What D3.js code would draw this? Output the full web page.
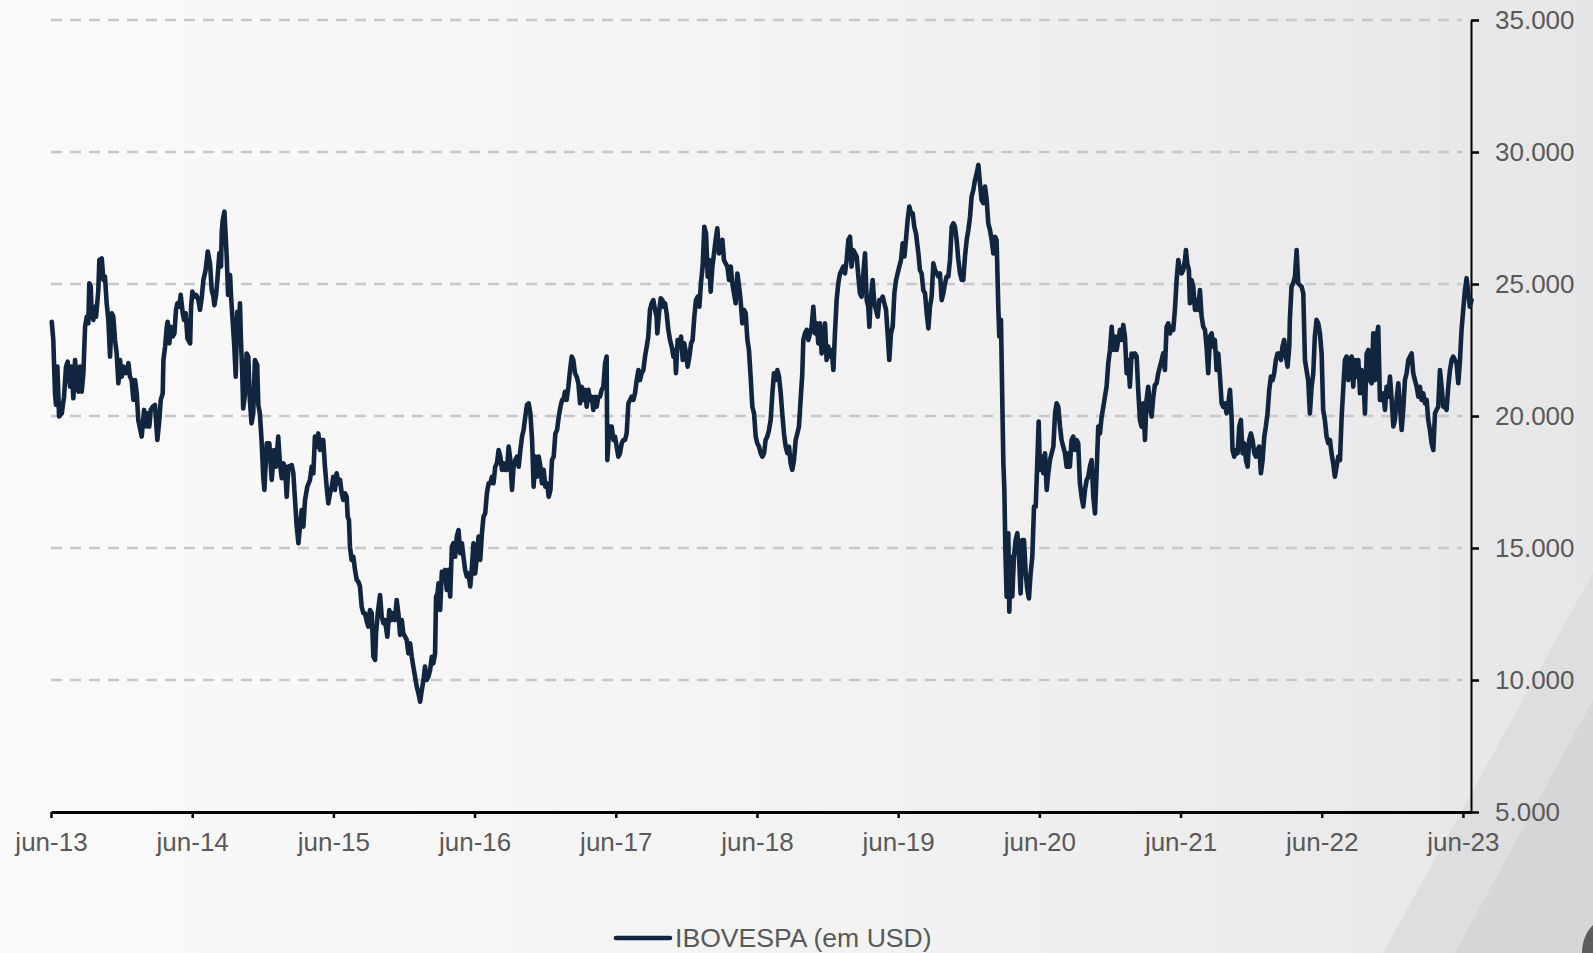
<!DOCTYPE html>
<html>
<head>
<meta charset="utf-8">
<script src="https://cdn.jsdelivr.net/npm/d3@7"></script>
<style>
  html, body { margin: 0; padding: 0; background: #f5f5f6; }
  svg { display: block; }
  text { font-family: "Liberation Sans", Arial, sans-serif; }
</style>
</head>
<body>
<div id="chart"></div>
<script>
// IBOVESPA em USD, datas em anos decimais (jun-13 a jun-23)
var datas = [
  2013.419,2013.430,2013.442,2013.449,2013.459,2013.471,2013.490,2013.506,2013.520,2013.532,2013.549,2013.560,2013.572,2013.584,2013.596,2013.608,2013.619,2013.631,2013.643,2013.655,
  2013.667,2013.678,2013.685,2013.695,2013.702,2013.714,2013.721,2013.733,2013.749,2013.756,2013.773,2013.785,2013.796,2013.808,2013.820,2013.832,2013.844,2013.855,2013.867,2013.879,
  2013.891,2013.903,2013.915,2013.926,2013.945,2013.962,2013.973,2013.985,2013.997,2014.009,2014.021,2014.032,2014.044,2014.056,2014.073,2014.087,2014.096,2014.110,2014.120,2014.134,
  2014.150,2014.167,2014.181,2014.191,2014.205,2014.210,2014.222,2014.234,2014.240,2014.252,2014.262,2014.276,2014.288,2014.299,2014.309,2014.323,2014.332,2014.347,2014.356,2014.368,
  2014.380,2014.399,2014.406,2014.415,2014.427,2014.441,2014.458,2014.469,2014.481,2014.493,2014.509,2014.524,2014.540,2014.552,2014.564,2014.571,2014.583,2014.592,2014.606,2014.618,
  2014.623,2014.630,2014.642,2014.651,2014.658,2014.668,2014.682,2014.689,2014.700,2014.712,2014.722,2014.733,2014.745,2014.752,2014.759,2014.768,2014.775,2014.787,2014.799,2014.811,
  2014.822,2014.834,2014.846,2014.858,2014.874,2014.882,2014.893,2014.905,2014.917,
  2014.925,2014.942,2014.960,2014.977,2014.993,2015.007,2015.023,2015.035,2015.048,2015.059,2015.071,2015.083,2015.095,2015.119,2015.130,2015.142,2015.154,2015.166,2015.177,2015.189,
  2015.201,2015.213,2015.229,2015.248,2015.260,2015.272,2015.283,2015.295,2015.307,2015.319,2015.331,2015.342,2015.354,2015.366,2015.378,2015.390,2015.402,2015.413,2015.425,2015.437,
  2015.449,2015.461,2015.473,2015.484,2015.496,2015.508,2015.515,2015.524,2015.531,2015.543,2015.555,2015.567,2015.579,2015.590,2015.602,2015.614,2015.626,2015.638,2015.650,2015.661,
  2015.673,2015.685,2015.697,2015.709,2015.716,2015.728,2015.744,2015.756,2015.768,2015.779,2015.796,2015.810,2015.827,2015.838,2015.850,2015.862,2015.874,2015.886,2015.898,2015.909,
  2015.921,2015.933,2015.945,2015.957,2015.969,2015.980,2015.992,2016.004,2016.016,2016.028,2016.040,2016.052,2016.063,2016.075,2016.087,2016.099,2016.111,2016.122,2016.134,2016.141,
  2016.151,2016.158,2016.170,2016.182,2016.193,2016.205,2016.217,2016.229,2016.241,2016.253,2016.264,2016.276,2016.288,2016.300,2016.312,2016.324,2016.335,2016.347,2016.359,2016.371,
  2016.383,2016.395,2016.406,2016.418,2016.430,2016.442,2016.454,2016.466,2016.477,2016.489,2016.501,2016.513,2016.525,2016.537,2016.548,2016.560,2016.572,2016.584,2016.596,2016.608,
  2016.619,2016.631,2016.643,2016.655,2016.667,2016.679,2016.690,2016.702,2016.714,2016.726,2016.738,2016.750,2016.761,2016.773,2016.785,2016.797,2016.809,2016.821,2016.832,2016.844,
  2016.856,2016.868,2016.880,2016.891,2016.903,2016.915,2016.927,2016.939,2016.951,2016.962,2016.974,2016.986,2016.998,2017.010,2017.022,2017.034,
  2017.043,2017.054,2017.066,2017.078,2017.090,2017.102,2017.113,2017.125,2017.137,2017.149,2017.161,2017.172,2017.184,2017.196,2017.208,2017.220,2017.231,2017.243,2017.255,2017.267,
  2017.279,2017.290,2017.302,2017.314,2017.326,2017.338,2017.349,2017.354,2017.368,2017.385,2017.397,2017.408,2017.420,2017.432,2017.444,2017.456,2017.467,2017.479,2017.491,2017.503,
  2017.515,2017.526,2017.538,2017.550,2017.562,2017.574,2017.585,2017.597,2017.609,2017.621,2017.633,2017.644,2017.656,2017.668,2017.680,2017.692,2017.703,2017.708,2017.720,2017.732,
  2017.744,2017.751,2017.763,2017.774,2017.786,2017.798,2017.810,2017.822,2017.833,2017.840,2017.852,2017.864,2017.876,2017.888,2017.899,2017.911,2017.923,2017.935,2017.947,2017.958,
  2017.970,2017.982,2017.994,2018.006,2018.017,2018.029,2018.041,2018.053,2018.065,2018.076,2018.086,2018.098,2018.110,2018.121,2018.133,2018.145,2018.157,2018.169,2018.180,2018.192,
  2018.204,2018.216,2018.228,2018.239,2018.251,2018.263,2018.275,2018.287,2018.298,2018.310,2018.322,2018.334,2018.346,2018.357,2018.369,2018.381,2018.393,2018.405,2018.416,2018.428,
  2018.440,2018.452,2018.464,2018.475,2018.487,2018.499,2018.511,2018.523,2018.534,2018.546,2018.558,2018.570,2018.582,2018.593,2018.605,2018.617,2018.629,2018.641,2018.652,2018.664,
  2018.676,2018.688,2018.700,2018.711,2018.723,2018.735,2018.742,2018.754,2018.766,2018.778,2018.790,2018.801,2018.813,2018.825,2018.837,2018.848,2018.860,2018.872,2018.884,2018.896,
  2018.907,2018.919,2018.931,2018.943,2018.955,2018.966,2018.978,2018.990,2019.002,2019.014,2019.025,2019.037,2019.049,2019.061,2019.073,2019.084,2019.096,2019.108,2019.120,2019.132,
  2019.143,2019.155,2019.167,2019.179,2019.191,2019.202,2019.210,2019.219,2019.233,2019.245,2019.257,2019.269,2019.280,2019.292,2019.304,2019.316,2019.328,2019.339,2019.351,2019.363,
  2019.375,2019.387,2019.399,2019.410,2019.422,2019.434,2019.446,2019.458,2019.469,2019.481,2019.493,2019.505,2019.517,2019.528,2019.540,2019.557,2019.568,
  2019.580,2019.592,2019.604,2019.616,2019.628,2019.639,2019.651,2019.663,2019.675,2019.687,2019.698,2019.710,2019.722,2019.734,2019.746,2019.757,2019.769,2019.781,2019.793,2019.805,
  2019.816,2019.828,2019.840,2019.852,2019.864,2019.875,2019.887,2019.899,2019.911,2019.923,2019.934,2019.946,2019.958,2019.970,2019.982,2019.993,2020.005,2020.017,2020.029,2020.041,
  2020.052,2020.064,2020.076,2020.088,2020.100,2020.111,2020.123,2020.130,2020.142,2020.154,2020.159,2020.166,2020.173,2020.182,2020.194,2020.201,2020.211,2020.222,2020.234,2020.246,
  2020.258,2020.270,2020.281,2020.293,2020.305,2020.317,2020.329,2020.340,2020.352,2020.364,2020.376,2020.388,2020.399,2020.409,2020.418,2020.430,2020.442,2020.454,2020.466,2020.477,
  2020.489,2020.501,2020.513,2020.525,2020.536,2020.548,
  2020.560,2020.571,2020.583,2020.595,2020.607,2020.619,2020.630,2020.642,2020.654,2020.666,2020.678,2020.689,2020.701,2020.713,2020.725,2020.737,2020.749,2020.760,2020.772,2020.784,
  2020.796,2020.808,2020.819,2020.831,2020.843,2020.855,2020.867,2020.878,2020.890,2020.902,2020.914,2020.926,2020.937,2020.949,2020.961,2020.973,2020.985,2020.996,2021.008,2021.020,
  2021.032,2021.044,2021.055,2021.067,2021.079,2021.091,2021.103,2021.114,2021.126,2021.138,2021.150,2021.162,2021.173,2021.185,2021.197,2021.209,2021.221,2021.232,2021.244,2021.256,
  2021.268,2021.280,2021.291,2021.303,2021.315,2021.327,2021.339,2021.350,2021.362,2021.374,2021.386,2021.398,2021.409,2021.421,2021.433,2021.445,2021.452,2021.461,2021.473,2021.480,
  2021.492,2021.504,2021.516,2021.528,2021.539,2021.551,2021.563,2021.575,2021.587,2021.598,2021.610,2021.622,2021.634,2021.646,2021.657,2021.669,2021.681,2021.693,2021.705,2021.716,
  2021.728,2021.740,2021.752,2021.764,2021.775,2021.782,2021.794,2021.806,2021.818,2021.830,2021.841,2021.853,2021.865,2021.877,2021.889,2021.900,2021.912,2021.924,2021.936,2021.948,
  2021.959,2021.971,2021.983,2021.995,2022.007,2022.018,2022.030,2022.042,2022.054,2022.066,2022.077,2022.089,2022.101,2022.113,2022.125,2022.136,2022.148,2022.160,2022.172,2022.184,
  2022.188,2022.200,2022.212,2022.224,2022.236,2022.247,2022.259,2022.271,2022.283,2022.295,2022.306,2022.318,2022.330,2022.342,2022.354,2022.365,2022.377,2022.389,2022.401,2022.413,
  2022.424,2022.436,2022.448,2022.460,2022.472,2022.483,2022.495,2022.507,2022.519,2022.531,
  2022.543,2022.555,2022.567,2022.578,2022.590,2022.602,2022.614,2022.626,2022.637,2022.649,2022.661,2022.673,2022.685,2022.696,2022.708,2022.720,2022.732,2022.744,2022.755,2022.767,
  2022.779,2022.791,2022.803,2022.814,2022.826,2022.838,2022.850,2022.862,2022.873,2022.885,2022.897,2022.909,2022.921,2022.932,2022.944,2022.956,2022.968,2022.980,2022.991,2023.003,
  2023.015,2023.027,2023.039,2023.050,2023.062,2023.074,2023.086,2023.098,2023.109,2023.121,2023.133,2023.145,2023.157,2023.168,2023.180,2023.192,2023.204,2023.216,2023.227,2023.239,
  2023.251,2023.263,2023.275,2023.286,2023.298,2023.310,2023.322,2023.334,2023.345,2023.357,2023.369,2023.381,2023.393,2023.404,2023.416,2023.428,2023.440,2023.452,2023.463,2023.475
];

var ibovUSD = [
  23570,22880,20860,20420,21870,19980,20100,20730,21870,22060,21110,21870,20670,22120,21360,20920,21870,20920,21620,23380,
  23760,23510,25030,24900,23890,23640,24140,23760,24770,25910,25970,25150,25280,24270,23640,22250,23890,23760,22880,22370,
  21240,22120,21490,21870,21620,22000,21490,21360,20610,21360,20860,19850,19530,19220,20230,19600,20100,19600,20230,20350,
  20420,19090,19850,20610,20860,22120,22630,23380,23570,22750,23380,23010,23130,24020,24270,24140,24590,23890,23640,23890,
  22940,22750,24140,24710,24520,24590,24390,24020,24460,25150,25530,26230,25780,24770,24520,24200,24590,25150,26160,25660,
  26980,27420,27740,26790,26040,24590,25340,24520,23640,22630,21490,23950,23190,24270,22880,21620,20290,20800,22370,22250,
  20610,19720,20100,22120,21930,20420,20100,19090,17700,
  17200,18970,18970,17580,18710,18080,19220,18210,17640,18210,18080,16940,18080,18140,17830,16820,15810,15180,15810,16440,
  15810,16820,17320,17580,18080,17830,19220,18840,19340,18710,19090,19090,18080,17320,16690,17070,17320,17700,17200,17830,
  17450,17580,17070,16820,17070,16940,16190,16060,15050,14550,14670,14170,13790,13730,13540,12780,12530,12530,12210,12020,
  12650,12530,10880,10760,11770,12530,13220,12400,12150,12270,11640,12650,12270,12530,12270,13030,12530,11710,12270,11770,
  11640,11520,11010,11390,10880,10510,10130,9750,9500,9180,9620,10000,10510,10000,10130,10380,10880,10630,11010,13160,
  13280,13660,12650,14100,13790,14170,13410,14170,13160,15050,15180,14670,15430,15680,14800,15180,14670,14170,13910,14040,
  13540,14290,15180,14040,14670,15430,14550,15560,16190,16310,17070,17450,17450,17700,17450,18080,18210,18710,18460,17960,
  18210,17960,17960,18840,18330,17200,18080,18330,18460,18080,18710,19220,19470,19980,20420,20480,20100,19090,17320,18460,
  17700,18460,18080,17450,17960,17320,17450,16940,17200,18330,18460,19340,19470,19980,20350,20610,
  20610,20920,20610,21110,21740,22250,22120,21620,21490,21240,20480,21110,20610,20990,20350,20990,20610,20730,20230,20730,
  20350,20730,20730,20990,21110,22000,22250,18330,19600,19600,19090,19220,18840,18460,18590,18970,19090,19090,19340,20480,
  20610,20730,20610,20860,21360,21740,21360,21620,21740,22250,22630,23010,24020,24270,24390,24020,23760,23130,23890,24460,
  24390,24140,24270,23890,23260,22880,22630,22250,22500,21620,22880,22630,23010,22120,22750,22370,21870,22250,22750,22880,
  23760,24390,24520,24140,25030,25660,27170,26920,25280,25910,24710,25660,26160,26670,27110,26160,26540,26670,25910,25780,
  25660,25150,25660,25030,24650,24270,25400,24900,24390,23510,24020,23890,22880,22500,21490,20350,20100,19220,18970,18840,
  18590,18460,18590,19090,19220,19470,19850,20860,21620,21360,21740,21490,20860,20100,19340,18840,18590,18840,18210,17960,
  18330,19090,19340,19600,20610,21620,22880,23130,23260,22880,23130,23380,24140,23130,23510,22750,23510,22370,22880,23510,
  22120,22630,22250,22500,21740,23130,24390,25030,25400,25530,25660,25400,25910,26670,26790,25660,26290,26160,26040,25280,
  24650,24520,25400,26160,24390,24140,23380,24390,25150,24270,24020,23760,24390,24390,24520,24270,24020,23130,22120,23130,
  23380,24650,25150,25400,25660,25910,26540,26040,26670,27430,27930,27680,27680,27170,26920,26160,25530,
  25400,24770,24650,23890,23320,24140,24520,25780,25530,25400,25280,25400,24390,24650,25030,25280,25280,25910,27170,27300,
  27170,26670,25910,25400,25150,25150,26040,26670,27050,27550,28310,28560,28940,29190,29510,28810,28180,28060,28690,28180,
  27300,27050,26670,26160,26790,26670,24140,23010,23640,19720,18210,17200,14930,13160,15560,12590,14670,13160,14670,15300,
  15560,14670,13280,15300,15300,14040,13410,13090,14040,14670,16570,16570,18210,19790,17960,18460,17830,18590,17200,17830,
  18330,18590,18840,20100,20480,20350,
  19600,19090,18840,18590,18080,18590,18080,19090,19220,18710,19090,18970,17450,16940,16570,17200,17580,17700,18080,18330,
  16940,16310,17830,19600,19340,19980,20350,20730,21110,22000,22500,23380,22500,23010,22500,22880,23260,22880,23450,23010,
  21620,22120,21110,22370,22250,22370,22250,20990,19850,19600,20480,19090,20610,21110,20350,19980,20730,21170,21240,21620,
  21870,22120,22370,21740,23380,23510,23130,23380,23260,24020,25150,25910,25530,25400,25530,25910,26290,25780,25530,24270,
  25150,24900,24020,24390,24020,24770,23760,23380,23260,22630,21620,23010,23130,22630,22880,21740,22370,21490,20480,20350,
  20480,20100,20480,20990,19980,18710,18460,18710,18590,19600,19850,18590,18970,18330,18080,19090,19340,19090,18590,18460,
  18710,18840,17830,18330,19220,19600,20100,20990,21490,21360,21620,22120,22370,22370,22120,22630,22880,22250,21870,22630,
  23640,24900,25030,25280,26290,25030,24960,24900,24650,22120,21740,21360,20100,21110,21620,23010,23640,23510,23130,22370,
  20230,19850,19220,18970,19090,18590,18210,17700,18080,18460,
  18330,19980,21110,22120,22250,21360,22120,22250,21110,22120,21490,22120,20860,21740,21620,20100,22370,22500,21360,21240,
  23130,21360,23010,23380,20610,20610,20860,20230,21110,20730,21490,20610,19600,19850,20610,21240,20350,19470,20230,21360,
  21620,22120,22250,22370,21620,21360,21110,20730,21110,20610,20860,20480,20610,19850,19470,18970,18710,20100,20230,20350,
  21740,21110,20350,20350,20230,21110,21740,22120,22250,22120,22000,21240,22120,23260,24020,24770,25220,24650,24140,24390
];

var anosTicks = [2013, 2014, 2015, 2016, 2017, 2018, 2019, 2020, 2021, 2022, 2023];
var rotulosX = ["jun-13", "jun-14", "jun-15", "jun-16", "jun-17", "jun-18", "jun-19", "jun-20", "jun-21", "jun-22", "jun-23"];
var ticksY = [5000, 10000, 15000, 20000, 25000, 30000, 35000];
var legenda = "IBOVESPA (em USD)";

var width = 1593,
    height = 953;
var junho = 151 / 365;   // 1 de junho como fracao do ano

var x = d3.scaleLinear()
    .domain([2013 + junho, 2023.471])
    .range([51, 1471]);

var y = d3.scaleLinear()
    .domain([5000, 35000])
    .range([812, 20]);

var fmt = d3.formatLocale({decimal: ",", thousands: ".", grouping: [3], currency: ["", ""]}).format(",.0f");

var svg = d3.select("#chart").append("svg")
    .attr("width", width)
    .attr("height", height);

// fundo
var defs = svg.append("defs");
var grad = defs.append("linearGradient")
    .attr("id", "fundo")
    .attr("x1", "0%").attr("x2", "100%")
    .attr("y1", "0%").attr("y2", "0%");
grad.append("stop").attr("offset", "0%").attr("stop-color", "#fafafa");
grad.append("stop").attr("offset", "55%").attr("stop-color", "#f2f2f3");
grad.append("stop").attr("offset", "100%").attr("stop-color", "#e6e6e8");

svg.append("rect")
    .attr("width", width)
    .attr("height", height)
    .attr("fill", "url(#fundo)");

// detalhe decorativo no canto inferior direito
svg.append("path")
    .attr("d", "M1593,573 L1593,953 L1383,953 Z")
    .attr("fill", "#dedee0");
svg.append("path")
    .attr("d", "M1593,700 L1593,953 L1455,953 Z")
    .attr("fill", "#d6d6d8");
svg.append("path")
    .attr("d", "M1582,953 C1582,940 1587,931 1593,925 L1593,953 Z")
    .attr("fill", "#5c5c5e");

// grade
svg.append("g")
    .selectAll("line")
    .data(ticksY.slice(1))
    .enter().append("line")
    .attr("x1", 51)
    .attr("x2", 1462)
    .attr("y1", function(d) { return y(d); })
    .attr("y2", function(d) { return y(d); })
    .attr("stroke", "#c8c8c8")
    .attr("stroke-width", 2.5)
    .attr("stroke-dasharray", "11,8");

// eixo x
var eixoX = svg.append("g")
    .attr("transform", "translate(0,812)")
    .call(d3.axisBottom(x)
        .tickValues(anosTicks.map(function(a) { return a + junho; }))
        .tickFormat(function(d, i) { return rotulosX[i]; })
        .tickSize(6)
        .tickSizeOuter(0)
        .tickPadding(15));
eixoX.select(".domain").attr("stroke", "#000").attr("stroke-width", 3);
eixoX.selectAll(".tick line").attr("stroke", "#000").attr("stroke-width", 2.5);
eixoX.selectAll("text")
    .attr("fill", "#595959")
    .style("font-size", "26px");

// eixo y (direita)
var eixoY = svg.append("g")
    .attr("transform", "translate(1471,0)")
    .call(d3.axisRight(y)
        .tickValues(ticksY)
        .tickFormat(fmt)
        .tickSize(8)
        .tickSizeOuter(0)
        .tickPadding(16));
eixoY.select(".domain").attr("stroke", "#000").attr("stroke-width", 2);
eixoY.selectAll(".tick line").attr("stroke", "#000").attr("stroke-width", 2.5);
eixoY.selectAll("text")
    .attr("fill", "#595959")
    .style("font-size", "26px");

// serie
var serie = datas.map(function(d, i) { return {t: d, v: ibovUSD[i]}; });

var linha = d3.line()
    .x(function(d) { return x(d.t); })
    .y(function(d) { return y(d.v); });

svg.append("path")
    .datum(serie)
    .attr("d", linha)
    .attr("fill", "none")
    .attr("stroke", "#11253f")
    .attr("stroke-width", 4.6)
    .attr("stroke-linejoin", "round")
    .attr("stroke-linecap", "round");

// legenda
var leg = svg.append("g");
leg.append("line")
    .attr("x1", 616).attr("x2", 670)
    .attr("y1", 938).attr("y2", 938)
    .attr("stroke", "#11253f")
    .attr("stroke-width", 4.6)
    .attr("stroke-linecap", "round");
leg.append("text")
    .attr("x", 675)
    .attr("y", 947)
    .attr("fill", "#595959")
    .style("font-size", "26.6px")
    .text(legenda);
</script>
</body>
</html>
